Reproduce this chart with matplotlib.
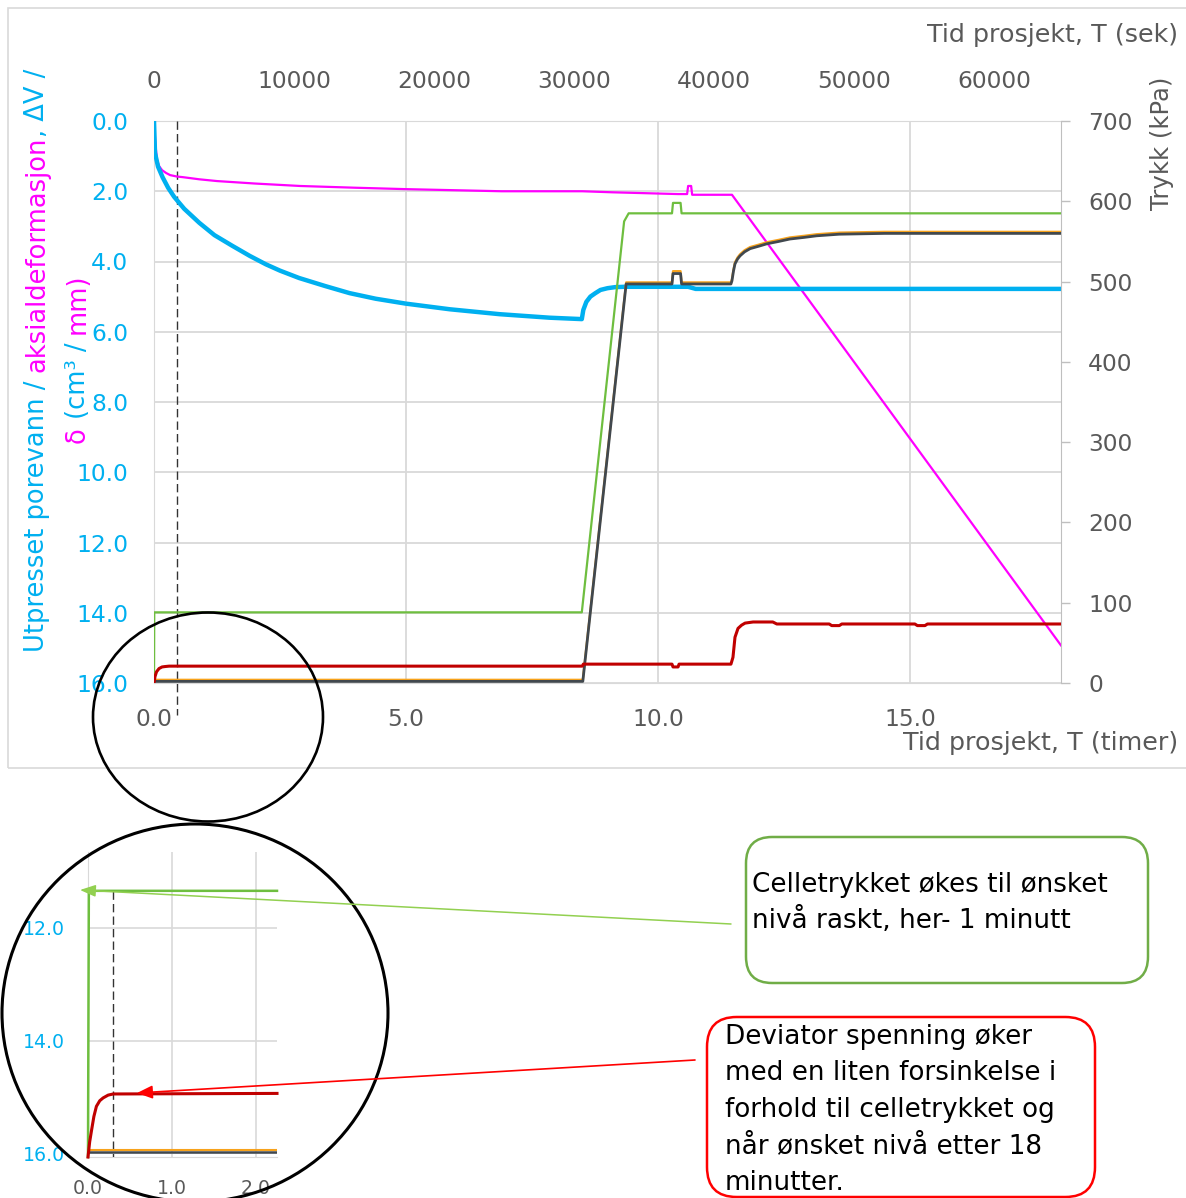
import numpy as np
import matplotlib
matplotlib.use('Agg')
import matplotlib.pyplot as plt
from matplotlib.patches import Ellipse, FancyBboxPatch, FancyArrowPatch, Rectangle

# ---- data (time in hours) ----
# aksialdeformasjon (mm), left axis
mag_t = [0, 0.03, 0.06, 0.1, 0.16, 0.24, 0.32, 0.45, 0.58, 0.9, 1.25, 2.0, 2.9, 4.0, 5.0, 6.9,
         8.5, 9.1, 10.4, 10.58, 10.6, 10.66, 10.68, 11.47, 18.0]
mag_v = [0, 0.7, 1.1, 1.28, 1.4, 1.48, 1.54, 1.58, 1.6, 1.66, 1.71, 1.78, 1.85, 1.9, 1.94, 2.0,
         2.0, 2.03, 2.08, 2.08, 1.85, 1.85, 2.1, 2.1, 14.93]

# utpresset porevann dV (cm3), left axis
blue_t = [0, 0.02, 0.08, 0.17, 0.28, 0.4, 0.6, 0.9, 1.2, 1.55, 1.9, 2.22, 2.5, 2.88, 3.4, 3.88, 4.4,
          5.0, 5.87, 6.86, 7.85, 8.49, 8.52, 8.58, 8.66, 8.76, 8.86, 9.0, 9.15, 9.35, 10.6, 10.75, 18.0]
blue_v = [0.0, 0.91, 1.3, 1.6, 1.9, 2.16, 2.5, 2.9, 3.25, 3.55, 3.84, 4.08, 4.26, 4.47, 4.7, 4.9, 5.06,
          5.2, 5.36, 5.5, 5.6, 5.64, 5.38, 5.15, 5.0, 4.9, 4.81, 4.76, 4.73, 4.72, 4.72, 4.78, 4.78]

# celletrykk (kPa), right axis
green_t = [0, 0.005, 8.49, 9.33, 9.42, 10.28, 10.3, 10.45, 10.47, 18.0]
green_v = [0, 88, 88, 575, 585, 585, 598, 598, 585, 585]

# deviatorspenning (kPa)
red_t = [0, 0.02, 0.05, 0.1, 0.16, 0.22, 0.3, 8.5, 8.52, 10.28, 10.3, 10.4, 10.42, 11.45, 11.49,
         11.53, 11.59, 11.66, 11.73, 11.89, 12.28, 12.36, 13.4, 13.45, 13.6, 13.65, 15.1, 15.15,
         15.3, 15.35, 18.0]
red_v = [0, 8, 14, 18, 20, 20.5, 21, 21, 23.5, 23.5, 20, 20, 23.5, 23.5, 32,
         57, 68, 72, 74.6, 76, 76, 73.5, 73.5, 71.5, 71.5, 73.5, 73.5, 71.5,
         71.5, 73.5, 73.5]

# poretrykk / mottrykk (kPa)
gray_t = [0, 8.51, 9.37, 10.28, 10.3, 10.45, 10.47, 11.45, 11.47, 11.5, 11.53, 11.58, 11.63,
          11.72, 11.83, 12.0, 12.16, 12.4, 12.62, 12.9, 13.15, 13.6, 14.5, 18.0]
gray_v = [2, 2, 497, 497, 510, 510, 497, 497, 501, 513, 522, 528, 532,
          537, 541, 544, 547, 550, 553, 555, 557, 559, 560, 560]
orange_v = [4, 4, 499, 499, 513, 513, 499, 499, 503, 515, 524, 530, 534,
            539, 543, 546, 549, 552, 555, 557, 559, 561, 562, 562]

# inset (zoom of first 2.25 h)
in_green_t = [0, 0.01, 2.25]
in_green_v = [16.07, 11.34, 11.34]
in_red_t = [0, 0.02, 0.044, 0.07, 0.1, 0.14, 0.18, 0.24, 0.3, 2.25]
in_red_v = [16.07, 15.8, 15.58, 15.35, 15.17, 15.07, 15.02, 14.97, 14.95, 14.94]
in_gray_t = [0, 2.25]
in_gray_v = [15.98, 15.98]
in_orange_v = [15.94, 15.94]

left_ticks = np.arange(0, 17, 2)
bottom_ticks = [0, 5, 10, 15]
top_ticks = list(range(0, 60001, 10000))
right_ticks = list(range(0, 701, 100))

BLUE = '#00B0F0'
MAG = '#FF00FF'
GREEN = '#6EBE3F'
RED = '#C00000'
GRAY = '#41484E'
ORANGE = '#F7A21B'
TXT = '#595959'
GRID = '#D9D9D9'

W, H = 1186, 1198
fig = plt.figure(figsize=(W / 100, H / 100), dpi=100)


def fx(px):
    return px / W


def fy(py):
    return 1 - py / H


# outer frame of the chart
fig.add_artist(Rectangle((fx(8), fy(768)), fx(1200) - fx(8), fy(8) - fy(768),
                         transform=fig.transFigure, fill=False, ec=GRID, lw=1.2))

# ---- main chart ----
ax = fig.add_axes([fx(154), fy(683), fx(1061) - fx(154), fy(121) - fy(683)])
ax.set_xlim(0, 18)
ax.set_ylim(16, 0)
ax2 = ax.twinx()
ax2.set_ylim(0, 700)

ax.plot(mag_t, mag_v, color=MAG, lw=1.6, zorder=3)
ax.plot(blue_t, blue_v, color=BLUE, lw=3.2, zorder=3)
ax.plot([0.45, 0.45], [0, 16.9], color='#333333', lw=1.0, ls=(0, (6, 3)), clip_on=False)

ax2.plot(green_t, green_v, color=GREEN, lw=1.6, zorder=3)
ax2.plot(gray_t, orange_v, color=ORANGE, lw=1.6, zorder=3)
ax2.plot(gray_t, gray_v, color=GRAY, lw=2.0, zorder=3)
ax2.plot(red_t, red_v, color=RED, lw=2.2, zorder=3)

ax.set_yticks(left_ticks)
ax.set_yticklabels(['%.1f' % v for v in left_ticks])
ax.set_xticks(bottom_ticks)
ax.set_xticklabels(['%.1f' % v for v in bottom_ticks])
ax.tick_params(axis='both', length=0)
ax.tick_params(axis='y', labelcolor=BLUE, labelsize=16.8, pad=18.5)
ax.tick_params(axis='x', labelcolor=TXT, labelsize=16.8, pad=18)
ax.grid(True, color=GRID, lw=1.3)
ax.set_axisbelow(True)
for s in ['left', 'bottom', 'top']:
    ax.spines[s].set_color(GRID)
    ax.spines[s].set_zorder(0.5)
ax.spines['right'].set_visible(False)

for s in ['left', 'bottom', 'top']:
    ax2.spines[s].set_visible(False)
ax2.spines['right'].set_color('#BFBFBF')
ax2.set_yticks(right_ticks)
ax2.tick_params(axis='y', direction='out', length=6.5, width=1, color='#BFBFBF',
                labelcolor=TXT, labelsize=16.8, pad=13)

secax = ax.secondary_xaxis('top', functions=(lambda h: h * 3600, lambda s: s / 3600))
secax.set_xticks(top_ticks)
secax.tick_params(length=0, labelsize=16.8, labelcolor=TXT, pad=20)
for sp in secax.spines.values():
    sp.set_visible(False)

fig.text(fx(1178), fy(35), 'Tid prosjekt, T (sek)', ha='right', va='center', size=18.3, color=TXT)
fig.text(fx(1178), fy(743), 'Tid prosjekt, T (timer)', ha='right', va='center', size=18.3, color=TXT)
fig.text(fx(1162), fy(143), 'Trykk (kPa)', ha='center', va='center', rotation=90, size=17.5, color=TXT)

# multi coloured left axis title
renderer = fig.canvas.get_renderer()


def text_w(s, size):
    t = fig.text(0, 0, s, size=size)
    w = t.get_window_extent(renderer).width
    t.remove()
    return w


def vlabel(x_px, y_px, pieces, size):
    sp = text_w('a a', size) - text_w('aa', size)
    y = y_px
    for s, c, gap in pieces:
        fig.text(fx(x_px), fy(y), s, color=c, size=size, rotation=90,
                 rotation_mode='anchor', ha='left', va='center')
        y -= text_w(s, size) + (sp if gap else 0)


vlabel(37, 652, [('Utpresset porevann /', BLUE, True), ('aksialdeformasjon', MAG, False),
                 (', ΔV /', BLUE, False)], 18.5)
vlabel(78, 443, [('δ', MAG, True), ('(cm³ /', BLUE, True), ('mm)', MAG, False)], 18.5)

# ---- inset ----
axi = fig.add_axes([fx(88), fy(1157), fx(277) - fx(88), fy(852) - fy(1157)])
axi.set_xlim(0, 2.25)
axi.set_ylim(16.07, 10.65)
axi.plot(in_green_t, in_green_v, color=GREEN, lw=1.8, zorder=3, clip_on=False)
axi.plot(in_gray_t, in_orange_v, color=ORANGE, lw=1.5, zorder=3)
axi.plot(in_gray_t, in_gray_v, color=GRAY, lw=1.8, zorder=3)
axi.plot(in_red_t, in_red_v, color=RED, lw=2.2, zorder=3, clip_on=False)
axi.plot([0.3, 0.3], [11.34, 16.07], color='#333333', lw=1.0, ls=(0, (6, 3)))
axi.set_xticks([0, 1, 2])
axi.set_xticklabels(['0.0', '1.0', '2.0'])
axi.set_yticks([12, 14, 16])
axi.set_yticklabels(['12.0', '14.0', '16.0'])
axi.grid(True, color=GRID, lw=1.2)
axi.set_axisbelow(True)
axi.tick_params(axis='both', length=0)
axi.tick_params(axis='y', labelcolor=BLUE, labelsize=13.6, pad=16.5)
axi.tick_params(axis='x', labelcolor=TXT, labelsize=13.6, pad=15.5)
for s in ['top', 'right']:
    axi.spines[s].set_visible(False)
for s in ['left', 'bottom']:
    axi.spines[s].set_color(GRID)
    axi.spines[s].set_zorder(0.5)

# circles
fig.add_artist(Ellipse((fx(208), fy(717)), 230 / W, 209 / H, transform=fig.transFigure,
                       fill=False, ec='black', lw=1.9))
fig.add_artist(Ellipse((fx(195), fy(1013)), 386 / W, 378 / H, transform=fig.transFigure,
                       fill=False, ec='black', lw=2.2))

# annotation boxes
fig.add_artist(FancyBboxPatch((fx(746), fy(983)), (1148 - 746) / W, (983 - 837) / H,
                              boxstyle='round,pad=0,rounding_size=0.022', transform=fig.transFigure,
                              fc='white', ec='#70AD47', lw=1.8))
fig.add_artist(FancyBboxPatch((fx(707), fy(1197)), (1095 - 707) / W, (1197 - 1017) / H,
                              boxstyle='round,pad=0,rounding_size=0.025', transform=fig.transFigure,
                              fc='white', ec='#FF0000', lw=1.8))

green_lines = ['Celletrykket økes til ønsket', 'nivå raskt, her- 1 minutt']
for i, line in enumerate(green_lines):
    fig.text(fx(752), fy(885 + 35 * i), line, ha='left', va='center', size=18.9, color='black')
red_lines = ['Deviator spenning øker', 'med en liten forsinkelse i', 'forhold til celletrykket og',
             'når ønsket nivå etter 18', 'minutter.']
for i, line in enumerate(red_lines):
    fig.text(fx(725), fy(1037 + 36.4 * i), line, ha='left', va='center', size=18.9, color='black')

# arrows
fig.add_artist(FancyArrowPatch((fx(731), fy(924)), (fx(80), fy(890)), transform=fig.transFigure,
                               arrowstyle='-|>,head_length=0.47,head_width=0.18', mutation_scale=20,
                               color='#92D050', lw=1.1, shrinkA=0, shrinkB=0))
fig.add_artist(FancyArrowPatch((fx(695), fy(1060)), (fx(137), fy(1093)), transform=fig.transFigure,
                               arrowstyle='-|>,head_length=0.47,head_width=0.2', mutation_scale=20,
                               color='#FF0000', lw=1.2, shrinkA=0, shrinkB=0))

fig.savefig('out.png', dpi=100)
